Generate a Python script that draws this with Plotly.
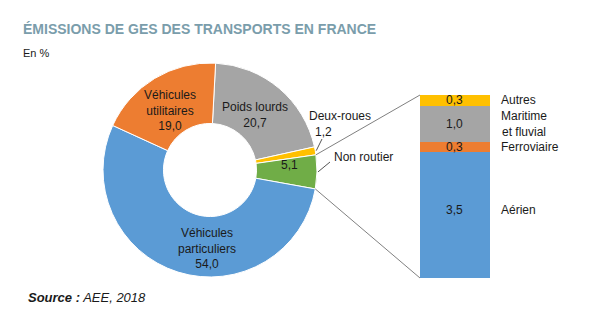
import math
import plotly.graph_objects as go

# ---------------- data ----------------
pie_labels = ["Poids lourds", "Deux-roues", "Non routier", "Véhicules particuliers", "Véhicules utilitaires"]
pie_values = [20.7, 1.2, 5.1, 54.0, 19.0]
pie_colors = ["#A5A5A5", "#FFC000", "#70AD47", "#5B9BD5", "#ED7D31"]

bar_labels = ["Aérien", "Ferroviaire", "Maritime et fluvial", "Autres"]
bar_values = [3.5, 0.3, 1.0, 0.3]
bar_colors = ["#5B9BD5", "#ED7D31", "#A5A5A5", "#FFC000"]

title_text = "ÉMISSIONS DE GES DES TRANSPORTS EN FRANCE"
unit_text = "En %"
source_bold = "Source :"
source_rest = " AEE, 2018"

# ---------------- layout helpers ----------------
W, H = 606, 331
def px(x):
    return x / W
def py(y):
    return 1 - y / H
def fmt(v):
    return f"{v:.1f}".replace(".", ",")

FONT = "Liberation Sans, Arial, sans-serif"
TXT = "#1a1a1a"

# pie geometry (pixels)
cx, cy, R = 210, 170, 107
rotation = 3
hole = 0.435

# bar geometry (pixels)
bx0, bx1, by_top, by_bot = 420, 490, 95, 278

fig = go.Figure()

fig.add_trace(go.Pie(
    labels=pie_labels, values=pie_values, sort=False, direction="clockwise",
    rotation=rotation, hole=hole,
    marker=dict(colors=pie_colors, line=dict(color="white", width=1)),
    textinfo="none", hoverinfo="skip", showlegend=False,
    domain=dict(x=[px(cx - R), px(cx + R)], y=[py(cy + R), py(cy - R)]),
))

for lab, val, col in zip(bar_labels, bar_values, bar_colors):
    fig.add_trace(go.Bar(
        x=[0], y=[val], name=lab, marker=dict(color=col, line=dict(width=0)),
        width=1, showlegend=False, hoverinfo="skip", xaxis="x", yaxis="y",
    ))

total_bar = sum(bar_values)

annotations = []
def ann(text, x, y, size=12, xanchor="center", xref="paper", yref="paper", yshift=0, color=TXT, family=FONT):
    annotations.append(dict(text=text, x=x, y=y, xref=xref, yref=yref, xanchor=xanchor,
                            yanchor="middle", showarrow=False, yshift=yshift,
                            font=dict(size=size, color=color, family=family)))

# title, unit, source
annotations.append(dict(text=f"<b>{title_text}</b>", x=px(21), y=py(29), xref="paper", yref="paper",
                        xanchor="left", yanchor="middle", showarrow=False,
                        font=dict(size=14, color="#7A9DAB", family=FONT)))
ann(unit_text, px(21), py(53), size=11, xanchor="left")
ann(f"<b><i>{source_bold}</i></b><i>{source_rest}</i>", px(26), py(297), size=13, xanchor="left")

# pie labels (multi-line blocks)
pie_text_pos = {
    "Véhicules utilitaires": (170, 110),
    "Poids lourds": (255, 115),
    "Véhicules particuliers": (207, 248),
}
for lab, val in zip(pie_labels, pie_values):
    if lab in pie_text_pos:
        x, yc = pie_text_pos[lab]
        if lab == "Poids lourds":
            txt = f"{lab}<br>{fmt(val)}"
        else:
            txt = "<br>".join(lab.split(" ") + [fmt(val)])
        ann(txt, px(x), py(yc))
# Deux-roues (outside)
ann(pie_labels[1], px(340), py(116))
ann(fmt(pie_values[1]), px(323), py(132))
# Non routier
ann(fmt(pie_values[2]), px(289), py(165))
ann(pie_labels[2], px(332), py(157), xanchor="left")

# bar value and label annotations
cum = 0
for lab, val in zip(bar_labels, bar_values):
    mid = cum + val / 2
    cum += val
    shift = 5 if lab == "Aérien" else 0
    ann(fmt(val), 0, mid, xref="x", yref="y", yshift=shift)
    if lab == "Maritime et fluvial":
        ann("Maritime<br>et fluvial", px(499), mid, xanchor="left", yref="y")
    else:
        ann(lab, px(499), mid, xanchor="left", yref="y", yshift=shift)

# geometry for connectors
def pie_point(frac, r=R):
    ang = math.radians(rotation + 360 * frac)
    return cx + r * math.sin(ang), cy - r * math.cos(ang)

tot = sum(pie_values)
start_nr = sum(pie_values[:2]) / tot
end_nr = sum(pie_values[:3]) / tot
mid_dr = (pie_values[0] + pie_values[1] / 2) / tot
mid_nr = (start_nr + end_nr) / 2

shapes = []
def line(p0, p1, color="#808080", width=1):
    shapes.append(dict(type="line", xref="paper", yref="paper",
                       x0=px(p0[0]), y0=py(p0[1]), x1=px(p1[0]), y1=py(p1[1]),
                       line=dict(color=color, width=width)))

line(pie_point(start_nr), (bx0, by_top))
line(pie_point(end_nr), (bx0, by_bot))
line(pie_point(mid_dr, R + 1), (322, 139), color="#555555")
line(pie_point(mid_nr, R + 1), (330, 162), color="#555555")

fig.update_layout(
    width=W, height=H, margin=dict(l=0, r=0, t=0, b=0),
    paper_bgcolor="white", plot_bgcolor="white",
    barmode="stack", bargap=0,
    xaxis=dict(domain=[px(bx0), px(bx1)], range=[-0.5, 0.5], visible=False, fixedrange=True),
    yaxis=dict(domain=[py(by_bot), py(by_top)], range=[0, total_bar], visible=False, fixedrange=True),
    annotations=annotations, shapes=shapes,
    font=dict(family=FONT, color=TXT),
)

fig.write_html("out.html")
